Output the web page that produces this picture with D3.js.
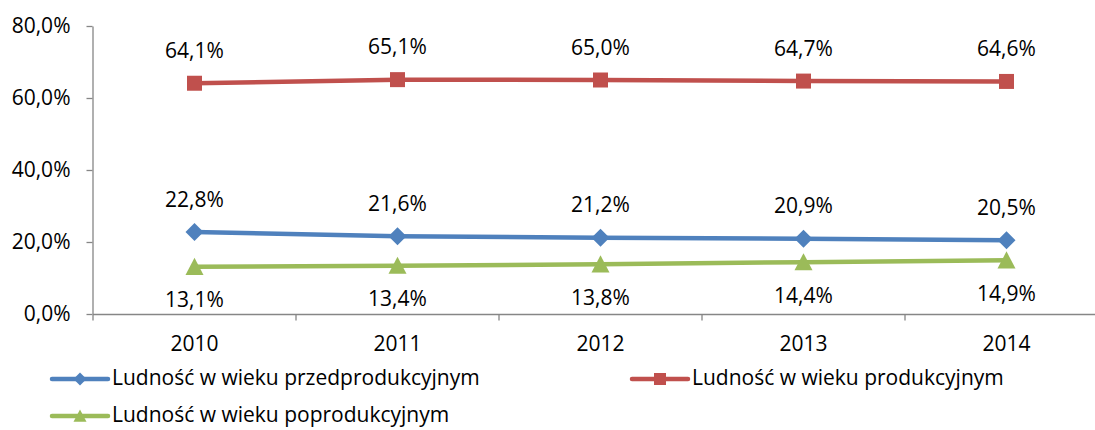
<!DOCTYPE html>
<html>
<head>
<meta charset="utf-8">
<script src="https://cdn.jsdelivr.net/npm/d3@7"></script>
<style>
  body { margin: 0; background: #fff; }
  svg text { font-family: "Open Sans", sans-serif; fill: #000; }
</style>
</head>
<body>
<div id="chart"></div>
<script>
/* DATA */
const years = ["2010", "2011", "2012", "2013", "2014"];
const przed = [22.8, 21.6, 21.2, 20.9, 20.5];
const prod = [64.1, 65.1, 65.0, 64.7, 64.6];
const poprod = [13.1, 13.4, 13.8, 14.4, 14.9];
const yTicks = [0, 20, 40, 60, 80];

const series = [
    { name: "Ludność w wieku przedprodukcyjnym", values: przed, color: "#4F81BD", marker: "diamond", label: "above", lx: 52, ly: 379 },
    { name: "Ludność w wieku produkcyjnym", values: prod, color: "#C0504D", marker: "square", label: "above", lx: 632, ly: 379 },
    { name: "Ludność w wieku poprodukcyjnym", values: poprod, color: "#9BBB59", marker: "triangle", label: "below", lx: 52, ly: 416 }
];

const config = { width: 1095, height: 430, font: "21px" };
const fmt = v => v.toFixed(1).replace(".", ",") + "%";

const svg = d3.select("#chart")
    .append("svg")
    .attr("width", config.width)
    .attr("height", config.height);

const x = d3.scaleBand().domain(years).range([93, 1108]);
const y = d3.scaleLinear().domain([0, 80]).range([314, 26]);
const axisColor = "#868686";

// y axis
const yAxis = svg.append("g")
    .attr("transform", "translate(92.5,0)")
    .call(d3.axisLeft(y).tickValues(yTicks).tickSize(6).tickSizeOuter(0)
        .tickFormat(d => d.toFixed(1).replace(".", ",") + "%"));
yAxis.select(".domain").attr("stroke", axisColor).attr("stroke-width", 1.3);
yAxis.selectAll(".tick line").attr("stroke", axisColor).attr("stroke-width", 1.3);
yAxis.selectAll(".tick text").attr("x", -22).style("font-size", config.font);

// x axis
const xAxis = svg.append("g")
    .attr("transform", "translate(0,314.5)");
xAxis.append("line")
    .attr("x1", x.range()[0]).attr("x2", x.range()[1])
    .attr("stroke", axisColor).attr("stroke-width", 1.3);
xAxis.selectAll(".xtick")
    .data(years.map(d => x(d)).concat([x.range()[1]]))
    .enter().append("line")
    .attr("x1", d => d).attr("x2", d => d)
    .attr("y1", 0).attr("y2", 6)
    .attr("stroke", axisColor).attr("stroke-width", 1.3);
xAxis.selectAll(".xlabel")
    .data(years)
    .enter().append("text")
    .attr("x", d => x(d) + x.bandwidth() / 2)
    .attr("y", 31)
    .attr("dominant-baseline", "middle")
    .attr("text-anchor", "middle")
    .style("font-size", config.font)
    .text(d => d);

function markerPath(type, s) {
    if (type === "square") return d3.symbol(d3.symbolSquare, s * s)();
    if (type === "diamond") {
        const h = s / 2;
        return `M0,${-h}L${h},0L0,${h}L${-h},0Z`;
    }
    const h = s / 2;
    return `M0,${-h}L${h},${h * 0.9}L${-h},${h * 0.9}Z`;
}

const line = d3.line()
    .x((d, i) => x(years[i]) + x.bandwidth() / 2)
    .y(d => y(d));

series.forEach(s => {
    const g = svg.append("g");
    g.append("path")
        .datum(s.values)
        .attr("d", line)
        .attr("fill", "none")
        .attr("stroke", s.color)
        .attr("stroke-width", 4.5);

    g.selectAll(".pt")
        .data(s.values)
        .enter().append("path")
        .attr("transform", (d, i) => `translate(${x(years[i]) + x.bandwidth() / 2},${y(d)})`)
        .attr("d", markerPath(s.marker, s.marker === "square" ? 15 : 18))
        .attr("fill", s.color);

    g.selectAll(".lbl")
        .data(s.values)
        .enter().append("text")
        .attr("x", (d, i) => x(years[i]) + x.bandwidth() / 2)
        .attr("y", d => s.label === "above" ? y(d) - 31 : y(d) + 35)
        .attr("text-anchor", "middle")
        .attr("dominant-baseline", "middle")
        .style("font-size", config.font)
        .text(d => fmt(d));

    // legend entry
    const lg = svg.append("g").attr("transform", `translate(${s.lx},${s.ly})`);
    lg.append("line")
        .attr("x1", 0).attr("x2", 56)
        .attr("stroke", s.color)
        .attr("stroke-width", 4.5)
        .attr("stroke-linecap", "round");
    lg.append("path")
        .attr("transform", "translate(28,0)")
        .attr("d", markerPath(s.marker, s.marker === "square" ? 12 : 13))
        .attr("fill", s.color);
    lg.append("text")
        .attr("x", 60)
        .attr("y", 0)
        .attr("dominant-baseline", "middle")
        .style("font-size", config.font)
        .text(s.name);
});
</script>
</body>
</html>
